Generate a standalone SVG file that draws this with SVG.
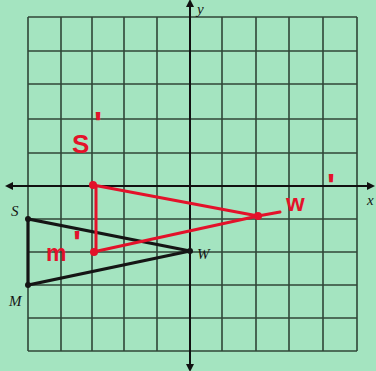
<svg xmlns="http://www.w3.org/2000/svg" width="376" height="371" viewBox="0 0 376 371">
<defs>
<style>
.grid{stroke:#1c2b20;stroke-width:1.6;fill:none;opacity:0.85}
.axis{stroke:#111;stroke-width:2;fill:none}
.blk{stroke:#151515;stroke-width:3.2;fill:none;stroke-linecap:round}
.red{stroke:#e3122a;stroke-width:3;fill:none;stroke-linecap:round;stroke-linejoin:round}
.lbl{font-family:"Liberation Serif",serif;font-style:italic;font-size:15px;fill:#151515}
.hand{font-family:"Liberation Sans",sans-serif;font-weight:bold;fill:#e3122a}
</style>
<marker id="ah" markerWidth="8" markerHeight="8" refX="6" refY="4" orient="auto" markerUnits="userSpaceOnUse">
<path d="M0,0 L8,4 L0,8 Z" fill="#111"/>
</marker>
</defs>
<rect width="376" height="371" fill="#a4e4c0"/>
<g id="grid" class="grid">
<path d="M28,17V351M61,17V351M92,17V351M124,17V351M157,17V351M222,17V351M256,17V351M289,17V351M323,17V351M357,17V351"/>
<path d="M28,17H357M28,51H357M28,84H357M28,119H357M28,153H357M28,219H357M28,252H357M28,285H357M28,318H357M28,351H357"/>
</g>
<g id="axes" class="axis">
<line x1="190" y1="186" x2="7" y2="186" marker-end="url(#ah)"/>
<line x1="190" y1="186" x2="373" y2="186" marker-end="url(#ah)"/>
<line x1="190" y1="186" x2="190" y2="1" marker-end="url(#ah)"/>
<line x1="190" y1="186" x2="190" y2="370" marker-end="url(#ah)"/>
</g>
<text class="lbl" x="197" y="14" font-size="14">y</text>
<text class="lbl" x="367" y="205" font-size="14">x</text>
<g id="connectors">
<path class="blk" d="M28,219 L28,285 L190,251 Z"/>
<path class="red" d="M93,185 L258,216 L93,252 M96,186 L96,252 M258,216 L280,212"/>
</g>
<g id="node-S"><circle cx="28" cy="219" r="3" fill="#151515"/><text class="lbl" x="11" y="216">S</text></g>
<g id="node-M"><circle cx="28" cy="285" r="3" fill="#151515"/><text class="lbl" x="9" y="306">M</text></g>
<g id="node-W"><circle cx="190" cy="251" r="3" fill="#151515"/><text class="lbl" x="197" y="259">W</text></g>
<g id="node-S-prime"><circle cx="93" cy="185" r="4" fill="#e3122a"/><text class="hand" x="72" y="153" font-size="26">S</text><text class="hand" x="94" y="135" font-size="34">'</text></g>
<g id="node-M-prime"><circle cx="94" cy="252" r="4" fill="#e3122a"/><text class="hand" x="46" y="261" font-size="23">m</text><text class="hand" x="73" y="254" font-size="34">'</text></g>
<g id="node-W-prime"><circle cx="258" cy="216" r="4" fill="#e3122a"/><text class="hand" x="286" y="211" font-size="24">w</text><text class="hand" x="327" y="197" font-size="34">'</text></g>
</svg>
